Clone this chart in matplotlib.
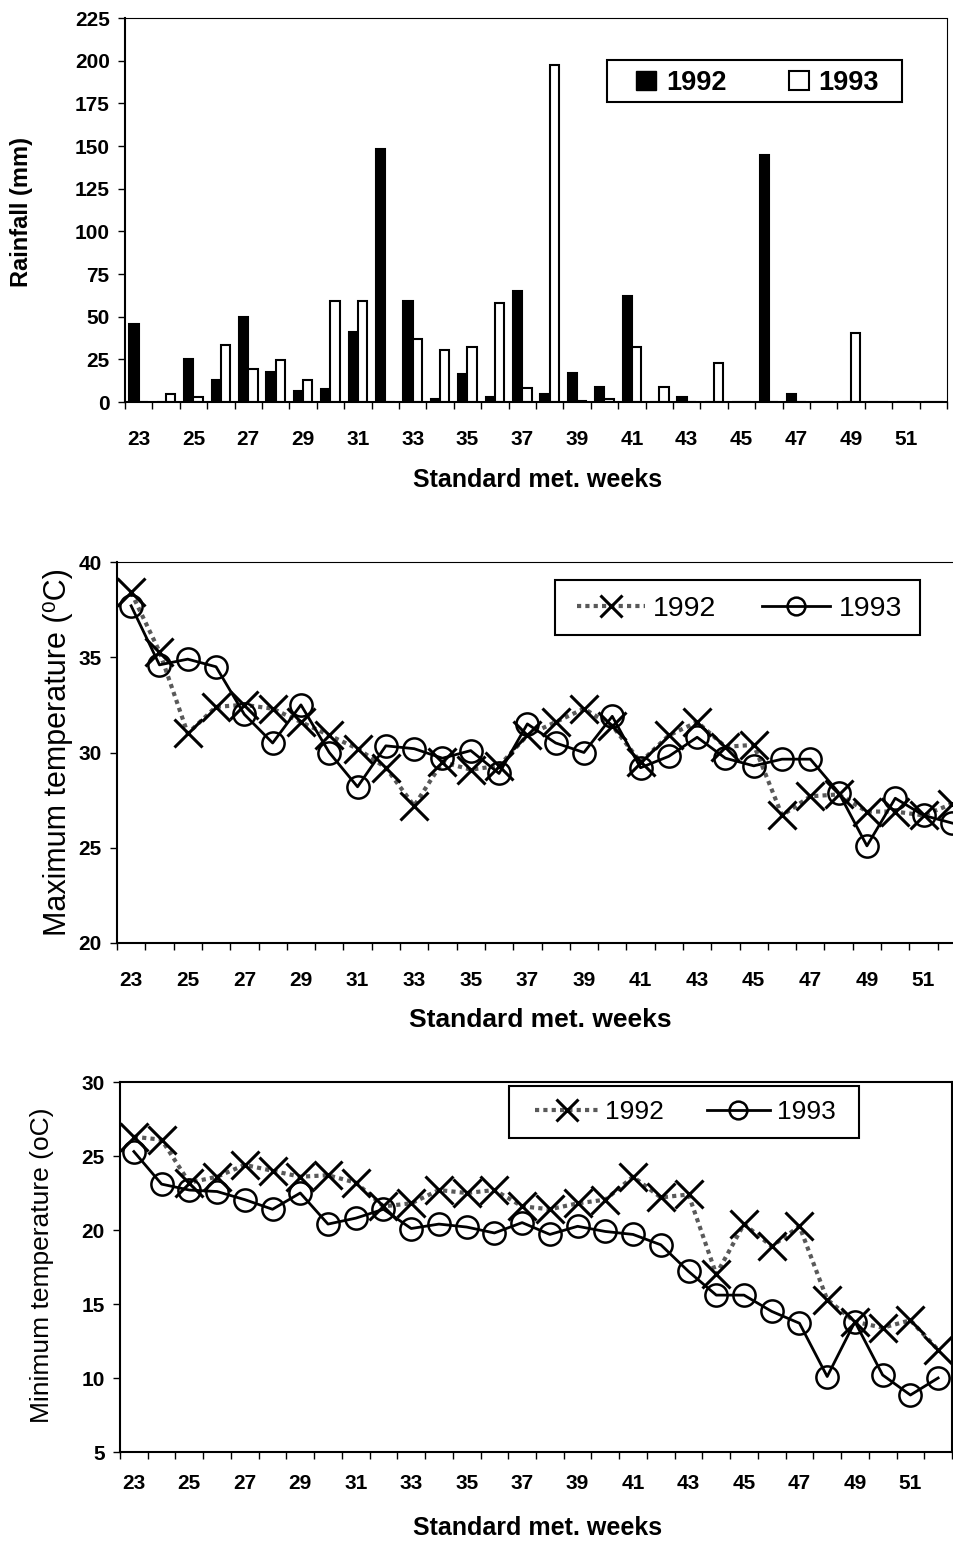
import matplotlib
matplotlib.use("Agg")
import matplotlib.pyplot as plt
from matplotlib.patches import Patch, Rectangle
import numpy as np

plt.rcParams['font.family'] = ['Liberation Sans', 'DejaVu Sans']

weeks = list(range(23, 53))
week_labels = [str(w) if w % 2 == 1 else "" for w in weeks]

rain_1992 = [45.5, 0, 25, 13, 49.6, 17.4, 6.4, 7.4, 40.8, 148.5, 59.2, 2, 16.2, 2.7, 65,
             4.6, 16.8, 9, 62.3, 0, 3, 0, 0, 144.5, 4.9, 0, 0, 0, 0, 0]
rain_1993 = [0, 4.9, 3.1, 33.4, 19.3, 24.6, 12.9, 59.2, 59.2, 0, 37, 30.5, 32.4, 58.2, 8.4,
             197.5, 0.8, 2, 32, 9, 0, 23, 0, 0, 0, 0, 40.6, 0, 0, 0]

tmax_1992 = [38.4, 35.3, 31.0, 32.4, 32.5, 32.3, 31.6, 30.9, 30.2, 29.2, 27.2, 29.5, 29.1, 29.3,
             30.9, 31.6, 32.3, 31.4, 29.5, 30.9, 31.6, 30.3, 30.4, 26.7, 27.7, 27.8, 26.9, 26.9,
             26.7, 27.3]
tmax_1993 = [37.7, 34.6, 34.9, 34.5, 32.0, 30.5, 32.5, 30.0, 28.2, 30.35, 30.2, 29.7, 30.1, 28.9,
             31.5, 30.5, 30.0, 31.9, 29.2, 29.8, 30.8, 29.7, 29.3, 29.65, 29.65, 27.9, 25.1, 27.6,
             26.7, 26.3]

tmin_1992 = [26.3, 26.1, 23.2, 23.6, 24.4, 24.0, 23.6, 23.7, 23.2, 21.6, 21.8, 22.7, 22.5, 22.7,
             21.6, 21.4, 21.8, 22.05, 23.6, 22.2, 22.4, 17.0, 20.4, 18.9, 20.25, 15.3, 13.8, 13.4,
             13.9, 11.9]
tmin_1993 = [25.3, 23.1, 22.7, 22.6, 22.05, 21.4, 22.5, 20.4, 20.8, 21.4, 20.1, 20.4, 20.2, 19.8,
             20.5, 19.7, 20.25, 19.9, 19.7, 19.0, 17.2, 15.6, 15.6, 14.5, 13.7, 10.1, 13.8, 10.2,
             8.85, 10.0]

W, H = 954, 1543
fig = plt.figure(figsize=(W / 100, H / 100), dpi=100)


def box(l, t, r, b):
    return [l / W, 1 - b / H, (r - l) / W, (b - t) / H]


def fx(px):
    return px / W


def fy(py):
    return 1 - py / H


x = np.arange(len(weeks))


def setup_axes(ax, pad):
    ax.set_xlim(-0.5, len(weeks) - 0.5)
    ax.set_xticks(np.arange(-0.5, len(weeks) + 0.5, 1.0))
    ax.set_xticklabels([])
    ax.set_xticks(x, minor=True)
    ax.set_xticklabels(week_labels, minor=True, fontsize=15, fontweight='bold')
    ax.tick_params(axis='x', which='major', direction='out', length=5, width=1)
    ax.tick_params(axis='x', which='minor', length=0, pad=pad)
    ax.tick_params(axis='y', direction='out', length=5, width=1, labelsize=15, pad=6)
    for lab in ax.get_yticklabels():
        lab.set_fontweight('bold')


def legend_frame(ax, l, t, r, b):
    rect = Rectangle((fx(l), fy(b)), fx(r) - fx(l), fy(t) - fy(b), transform=fig.transFigure,
                     facecolor='white', edgecolor='black', linewidth=1.5, zorder=10,
                     clip_on=False)
    ax.add_patch(rect)


def anchor(ax, left, top):
    return tuple(ax.transAxes.inverted().transform(
        fig.transFigure.transform((fx(left), fy(top)))))


# ---------------- Rainfall ----------------
ax1 = fig.add_axes(box(125, 18, 947, 402))
bw = 0.34
ax1.bar(x - 0.17, rain_1992, bw, color='black', edgecolor='black', linewidth=1.5, label='1992')
ax1.bar(x + 0.17, rain_1993, bw, color='white', edgecolor='black', linewidth=1.5, label='1993')
ax1.set_ylim(0, 225)
ax1.set_yticks(np.arange(0, 226, 25))
setup_axes(ax1, 20)
ax1.spines['top'].set_linestyle((0, (2, 1)))
ax1.spines['right'].set_linestyle((0, (1, 1)))
ax1.spines['left'].set_linewidth(1.5)
ax1.spines['bottom'].set_linewidth(1.5)
legend_frame(ax1, 607, 60, 902, 102)
leg1 = ax1.legend(handles=[Patch(facecolor='black', edgecolor='black', label='1992'),
                           Patch(facecolor='white', edgecolor='black', linewidth=1.5, label='1993')],
                  ncol=2, loc='upper left', bbox_to_anchor=anchor(ax1, 636, 70),
                  borderaxespad=0, borderpad=0, frameon=False,
                  handlelength=0.75, handleheight=0.75, handletextpad=0.35, columnspacing=2.3,
                  prop={'size': 19.5, 'weight': 'bold'})
leg1.set_zorder(11)
fig.text(22 / W, 1 - 212 / H, 'Rainfall (mm)', rotation=90, ha='center', va='center',
         fontsize=17, fontweight='bold')
fig.text(538 / W, 1 - 480 / H, 'Standard met. weeks', ha='center', va='center',
         fontsize=18, fontweight='bold')

# ---------------- Maximum temperature ----------------
ax2 = fig.add_axes(box(117, 562, 966, 943))
ax2.plot(x, tmax_1992, color='0.35', linestyle=(0, (1, 1)), linewidth=3, marker='x',
         markersize=20, markeredgewidth=2.2, markeredgecolor='black', label='1992', zorder=3)
ax2.plot(x, tmax_1993, color='black', linestyle='-', linewidth=2, marker='o', markersize=16,
         markerfacecolor='none', markeredgewidth=1.8, markeredgecolor='black', label='1993', zorder=4)
ax2.set_ylim(20, 40)
ax2.set_yticks(np.arange(20, 41, 5))
setup_axes(ax2, 20)
ax2.spines['top'].set_linestyle((0, (2, 1)))
ax2.spines['left'].set_linewidth(1.5)
ax2.spines['bottom'].set_linewidth(1.5)
legend_frame(ax2, 555, 580, 920, 635)
leg2 = ax2.legend(ncol=2, loc='upper left', bbox_to_anchor=anchor(ax2, 577, 596),
                  borderaxespad=0, borderpad=0, frameon=False,
                  handlelength=2.4, handletextpad=0.28, columnspacing=1.6,
                  markerscale=0.8, prop={'size': 20.5})
leg2.set_zorder(11)
fig.text(58 / W, 1 - 752 / H, 'Maximum temperature (\u2070C)', rotation=90, ha='center',
         va='center', fontsize=22)
fig.text(540 / W, 1 - 1020 / H, 'Standard met. weeks', ha='center', va='center',
         fontsize=19, fontweight='bold')

# ---------------- Minimum temperature ----------------
ax3 = fig.add_axes(box(120, 1082, 952, 1452))
ax3.plot(x, tmin_1992, color='0.35', linestyle=(0, (1, 1)), linewidth=3, marker='x',
         markersize=20, markeredgewidth=2.2, markeredgecolor='black', label='1992', zorder=3)
ax3.plot(x, tmin_1993, color='black', linestyle='-', linewidth=2, marker='o', markersize=16,
         markerfacecolor='none', markeredgewidth=1.8, markeredgecolor='black', label='1993', zorder=4)
ax3.set_ylim(5, 30)
ax3.set_yticks(np.arange(5, 31, 5))
setup_axes(ax3, 16)
for s in ax3.spines.values():
    s.set_linewidth(1.5)
legend_frame(ax3, 509, 1086, 859, 1138)
leg3 = ax3.legend(ncol=2, loc='upper left', bbox_to_anchor=anchor(ax3, 535, 1100),
                  borderaxespad=0, borderpad=0, frameon=False,
                  handlelength=2.4, handletextpad=0.27, columnspacing=1.6,
                  markerscale=0.8, prop={'size': 19})
leg3.set_zorder(11)
fig.text(42 / W, 1 - 1265 / H, 'Minimum temperature (oC)', rotation=90, ha='center',
         va='center', fontsize=19)
fig.text(538 / W, 1 - 1528 / H, 'Standard met. weeks', ha='center', va='center',
         fontsize=18, fontweight='bold')

fig.savefig('out.png', dpi=100)
